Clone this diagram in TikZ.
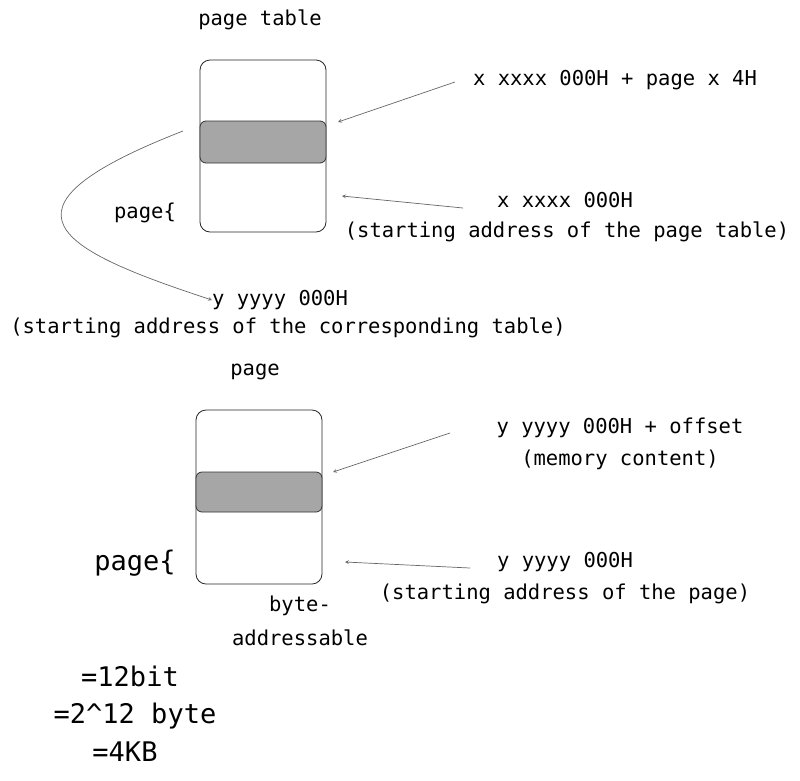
\documentclass[tikz,border=0pt]{standalone}
\usepackage{fontspec}
\setmainfont{DejaVu Sans Mono}
\usetikzlibrary{patterns}
\begin{document}
\begin{tikzpicture}[x=1pt,y=-1pt,
 txt/.style={font=\fontsize{20.5}{22}\selectfont, inner sep=0pt},
 big/.style={font=\fontsize{27}{30}\selectfont, inner sep=0pt},
 box/.style={draw=black!85, line width=0.8pt, rounded corners=10pt, fill=white},
 band/.style={draw=black!80, line width=0.8pt, rounded corners=6pt, fill=black!35},
 arr/.style={-stealth, draw=black!60, line width=0.7pt}]
\useasboundingbox (0,0) rectangle (800,780);
% top
\node[txt] (t1) at (260,20) {page table};
\node[box, minimum width=126pt, minimum height=172pt] (b1) at (263,146) {};
\node[band, minimum width=126pt, minimum height=42pt] (g1) at (263,142) {};
\node[txt] (l1) at (615,80) {x xxxx 000H + page x 4H};
\coordinate (a1) at (338,122);
\draw[arr] (455,82) -- (a1);
\node[txt] (l2) at (565,200) {x xxxx 000H};
\node[txt] (l3) at (567,232) {(starting address of the page table)};
\coordinate (a2) at (342,196);
\draw[arr] (463,208) -- (a2);
\node[txt] (p1) at (145,213) {page\{};
\node[txt] (l4) at (280,300) {y yyyy 000H};
\node[txt] (l5) at (288,328) {(starting address of the corresponding table)};
\coordinate (c1) at (183,131);
\draw[arr] (c1) .. controls (-20,210) and (60,250) .. (l4.west);
% bottom
\node[txt] (t2) at (255,372) {page};
\node[box, minimum width=126pt, minimum height=174pt] (b2) at (259,497) {};
\node[band, minimum width=126pt, minimum height=40pt] (g2) at (259,492) {};
\node[txt] (l6) at (620,428) {y yyyy 000H + offset};
\node[txt] (l7) at (620,460) {(memory content)};
\coordinate (a3) at (333,472);
\draw[arr] (450,433) -- (a3);
\node[txt] (l8) at (565,562) {y yyyy 000H};
\node[txt] (l9) at (565,594) {(starting address of the page)};
\coordinate (a4) at (345,562);
\draw[arr] (470,568) -- (a4);
\node[big] (p2) at (135,563) {page\{};
\node[txt] (l10) at (300,606) {byte-};
\node[txt] (l11) at (300,638) {addressable};
\node[big] (e1) at (130,676) {=12bit};
\node[big] (e2) at (135,716) {=2\^{}12 byte};
\node[big] (e3) at (125,752) {=4KB};
\end{tikzpicture}
\end{document}
